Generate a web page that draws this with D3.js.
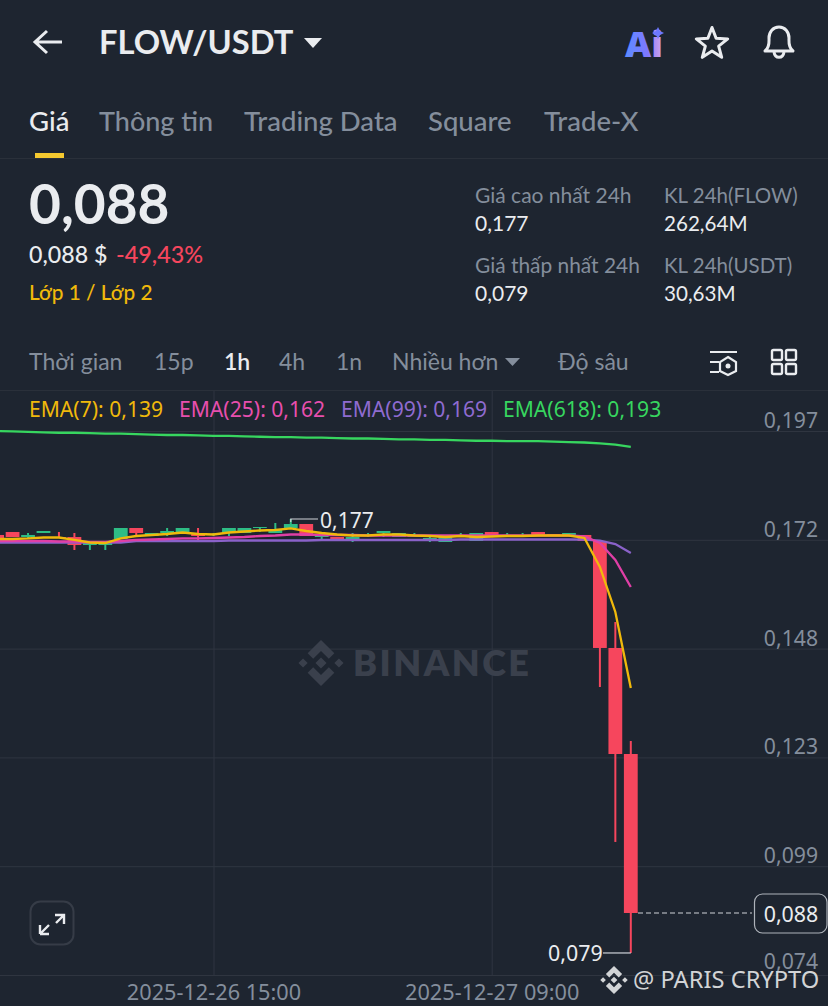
<!DOCTYPE html>
<html><head><meta charset="utf-8">
<script src="https://cdn.jsdelivr.net/npm/d3@7/dist/d3.min.js"></script>
<style>html,body{margin:0;padding:0;background:#1e2530;overflow:hidden}svg{display:block}</style>
</head><body><svg id="c" width="828" height="1006"></svg>
<script>
const lastCandle = "2025-12-27T18:00:00Z";
const opens = [.17349,.17416,.17303,.17394,.17303,.17303,.17122,.17122,.17258,.17507,.17326,.17394,.17394,.17394,.17349,.17394,.17394,.17507,.17394,.17507,.17597,.17303,.17303,.17236,.17326,.17394,.17303,.17303,.17258,.1719,.17326,.17213,.17416,.17326,.17326,.17416,.17371,.17349,.17349,.17213,.14794,.12397];
const highs = [.17349,.17416,.17394,.17439,.17416,.17394,.17168,.17168,.17507,.17507,.17394,.17507,.17507,.17507,.17394,.17507,.17507,.17529,.1762,.1771,.17597,.17326,.17303,.17394,.17394,.17439,.17394,.17394,.17326,.17303,.17394,.17394,.17416,.17394,.17394,.17416,.17371,.17394,.17349,.17236,.15382,.12691];
const lows = [.17281,.17303,.17281,.17394,.17281,.17009,.17009,.17009,.17258,.17326,.17326,.17326,.17394,.17213,.17326,.17326,.17394,.17416,.17394,.17507,.17326,.17236,.17236,.1719,.17303,.17303,.17303,.17303,.1719,.1719,.17326,.17213,.17326,.17326,.17326,.17326,.17326,.17349,.17213,.13912,.10408,.07898];
const closes = [.17281,.17303,.17349,.17439,.17281,.17122,.17168,.17168,.17507,.17394,.17394,.17439,.17507,.17326,.17371,.17507,.17507,.17529,.17484,.17597,.17326,.17326,.17236,.17303,.17349,.17439,.17394,.17326,.17281,.17303,.17349,.17394,.17326,.17349,.17349,.17326,.17326,.17394,.17213,.14794,.12397,.08802];
const ema7 = [.17258,.17258,.1727,.17292,.17292,.17236,.17179,.17168,.1727,.17326,.17349,.17371,.17405,.17371,.1736,.17405,.17428,.1745,.17462,.17496,.17439,.17394,.1736,.17337,.17337,.1736,.1736,.17337,.17326,.17303,.17326,.17303,.17315,.17326,.17326,.17337,.17337,.17337,.17281,.16625,.15608,.1389];
const ema25 = [.17213,.17213,.17213,.17213,.17202,.17202,.1719,.1719,.17213,.17236,.17247,.17258,.1727,.1727,.17281,.17292,.17303,.17326,.17337,.1736,.1736,.17349,.17349,.17349,.17337,.17337,.17337,.17337,.17337,.17337,.17337,.17337,.17337,.17337,.17337,.17337,.17337,.17337,.17315,.17168,.16783,.16173];
const ema99 = [.17179,.17179,.17179,.17179,.17179,.17179,.17179,.17179,.17179,.17213,.17213,.17213,.17213,.17213,.17213,.17224,.17224,.17224,.17224,.17224,.17224,.17236,.17236,.17236,.17236,.17236,.17236,.17236,.17236,.17236,.17247,.17247,.17247,.17247,.17247,.17247,.17247,.17247,.17242,.1722,.17145,.16942];
const ema618 = [.1970,.1969,.1968,.1967,.1966,.1966,.1965,.1964,.1964,.1963,.1962,.1961,.1961,.1960,.1959,.1959,.1958,.1957,.1956,.1956,.1955,.1955,.1954,.1953,.1953,.1952,.1951,.1951,.1950,.1950,.1949,.1948,.1948,.1947,.1947,.1947,.1946,.1945,.1944,.1942,.1939,.1934];
const priceTicks = [.197,.1724,.1478,.1232,.0986,.074];
const priceTickLabels = ["0,197","0,172","0,148","0,123","0,099","0,074"];
const timeTicks = ["2025-12-26T15:00:00Z","2025-12-27T09:00:00Z"];
const emaNames = ["EMA(7): 0,139","EMA(25): 0,162","EMA(99): 0,169","EMA(618): 0,193"];
const tabs = ["Giá","Thông tin","Trading Data","Square","Trade-X"];
const intervals = ["Thời gian","15p","1h","4h","1n","Nhiều hơn","Độ sâu"];

const BG="#1e2530", RED="#f6465d", GREEN="#2ebd85", GRID="#2f3540", GREY="#848e9c", WHITE="#eaecef", YEL="#f0b90b";
const UI="Lato, 'Noto Sans', sans-serif", CH="'Noto Sans', sans-serif";
const svg=d3.select("#c");
svg.append("rect").attr("width",828).attr("height",1006).attr("fill",BG);
const T=(g,s,x,y,size,fill,font,weight,anchor)=>g.append("text").text(s).attr("x",x).attr("y",y)
  .attr("font-size",size).attr("fill",fill).attr("font-family",font||UI).attr("font-weight",weight||400).attr("text-anchor",anchor||"start");

/* header */
const h=svg.append("g");
h.append("path").attr("d","M62 42H35M47 31L35 42L47 53").attr("fill","none").attr("stroke",WHITE).attr("stroke-width",3);
T(h,"FLOW/USDT",99,54,32.7,WHITE,UI,700);
h.append("path").attr("d","M304 38H322L313 48Z").attr("fill",WHITE);
const aig=svg.append("defs").append("linearGradient").attr("id","aig").attr("x1",0).attr("x2",1);
aig.append("stop").attr("offset",0).attr("stop-color","#5b8cff");
aig.append("stop").attr("offset",.6).attr("stop-color","#7f77ff");
aig.append("stop").attr("offset",1).attr("stop-color","#d7a6e8");
T(h,"Ai",625,57,36,"url(#aig)","'Noto Sans',sans-serif",900);
h.append("path").attr("d","M658 27L660 31L664 33L660 35L658 39L656 35L652 33L656 31Z").attr("fill","#6d78ff");
h.append("path").attr("d",d3.range(10).map(i=>{const r=i%2?7:16.5,a=-Math.PI/2+i*Math.PI/5;return (i?"L":"M")+(712+r*Math.cos(a))+" "+(44+r*Math.sin(a));}).join("")+"Z")
  .attr("fill","none").attr("stroke",WHITE).attr("stroke-width",3).attr("stroke-linejoin","round");
h.append("path").attr("d","M765 51C770 47 769 42 769 38C769 32 773 27 779 27C785 27 789 32 789 38C789 42 788 47 793 51Z")
  .attr("fill","none").attr("stroke",WHITE).attr("stroke-width",3).attr("stroke-linejoin","round");
h.append("path").attr("d","M774 52C775 59 783 59 784 52").attr("fill","none").attr("stroke",WHITE).attr("stroke-width",3);

/* tabs */
const tabX=[29,99,244,428,544];
tabs.forEach((s,i)=>T(h,s,tabX[i],131,i==1?27:27.5,i?GREY:WHITE,UI,500));
h.append("rect").attr("x",35).attr("y",153).attr("width",29).attr("height",5).attr("fill","#f5c92f");
h.append("rect").attr("x",0).attr("y",158).attr("width",828).attr("height",1).attr("fill","#2a303a");

/* price summary */
T(h,"0,088",29,224,55,WHITE,UI,700);
T(h,"0,088 $",29,263,23.2,WHITE,UI,500);
T(h,"-49,43%",116,263,23.4,RED,UI,500);
T(h,"Lớp 1 / Lớp 2",29,300,20.8,YEL,UI,500);
T(h,"Giá cao nhất 24h",475,203,21,GREY); T(h,"0,177",475,231,21,WHITE);
T(h,"Giá thấp nhất 24h",475,273,20.9,GREY); T(h,"0,079",475,301,21,WHITE);
T(h,"KL 24h(FLOW)",664,203,20.5,GREY); T(h,"262,64M",664,231,20.6,WHITE);
T(h,"KL 24h(USDT)",664,273,20.5,GREY); T(h,"30,63M",664,301,20.6,WHITE);

/* interval bar */
const intX=[29,154,224,279,336,392,558];
intervals.forEach((s,i)=>T(h,s,intX[i],370,23,i==2?WHITE:GREY,UI,i==2?600:400));
h.append("path").attr("d","M505 358H520L512.5 366Z").attr("fill",GREY);
h.append("path").attr("d","M710 352H737M710 362H719M710 372H719M728 357L736 362V371L728 375L720 371V362Z").attr("fill","none").attr("stroke",WHITE).attr("stroke-width",2.2);
h.append("circle").attr("cx",728).attr("cy",366).attr("r",2.5).attr("fill",WHITE);
[[772,350],[786,350],[772,364],[786,364]].forEach(p=>h.append("rect").attr("x",p[0]).attr("y",p[1]).attr("width",10).attr("height",10).attr("rx",1.5).attr("fill","none").attr("stroke",WHITE).attr("stroke-width",2.4));
h.append("rect").attr("x",0).attr("y",390).attr("width",828).attr("height",1).attr("fill","#2a303a");

/* scales */
const t15=new Date(timeTicks[0]), t09=new Date(timeTicks[1]);
const x=d3.scaleUtc().domain([t15,t09]).range([213.5,491.7]);
const y=d3.scaleLinear().domain([.197,.074]).range([431,975]);
const times=opens.map((_,i)=>d3.utcHour.offset(new Date(lastCandle),i-opens.length+1));
const rows=times.map((t,i)=>({t,o:opens[i],h:highs[i],l:lows[i],c:closes[i]}));

/* grid and axes */
const yAxis=svg.append("g").attr("transform","translate(828,0)")
  .call(d3.axisRight(y).tickValues(priceTicks).tickSize(-828).tickFormat((d,i)=>priceTickLabels[i]));
yAxis.select(".domain").remove();
yAxis.selectAll("line").attr("stroke",GRID);
yAxis.selectAll("text").attr("x",-10).attr("dy",(d,i)=>i==5?"-6.5":"-3.5").attr("text-anchor","end")
  .attr("font-size",21.2).attr("font-family",CH).attr("fill",GREY);
const xAxis=svg.append("g").attr("transform","translate(0,975)")
  .call(d3.axisBottom(x).tickValues(timeTicks.map(d=>new Date(d))).tickSize(-584).tickFormat(d3.utcFormat("%Y-%m-%d %H:%M")));
xAxis.select(".domain").remove();
xAxis.selectAll("line").attr("stroke",GRID);
xAxis.selectAll("text").attr("y",10).attr("dy","15").attr("font-size",21.7).attr("font-family",CH).attr("fill",GREY);

/* BINANCE watermark */
const logo=(g,cx,cy,s,fill)=>{
  const d=(px,py,r)=>`M${cx+px*s} ${cy+py*s-r*s}L${cx+px*s+r*s} ${cy+py*s}L${cx+px*s} ${cy+py*s+r*s}L${cx+px*s-r*s} ${cy+py*s}Z`;
  g.append("path").attr("fill",fill).attr("d",d(0,0,.24)+d(-.78,0,.2)+d(.78,0,.2)+
   `M${cx} ${cy-s}L${cx+.58*s} ${cy-.42*s}L${cx+.34*s} ${cy-.18*s}L${cx} ${cy-.52*s}L${cx-.34*s} ${cy-.18*s}L${cx-.58*s} ${cy-.42*s}Z`+
   `M${cx} ${cy+s}L${cx+.58*s} ${cy+.42*s}L${cx+.34*s} ${cy+.18*s}L${cx} ${cy+.52*s}L${cx-.34*s} ${cy+.18*s}L${cx-.58*s} ${cy+.42*s}Z`);
};
logo(svg,321,663,23,"#3a404c");
T(svg,"BINANCE",353,676,36,"#3a404c",UI,800).attr("textLength",176);

/* candles */
const plot=svg.append("g");
const col=d=>d.c>=d.o?GREEN:RED;
plot.selectAll("line.w").data(rows).join("line").attr("class","w")
  .attr("x1",d=>x(d.t)).attr("x2",d=>x(d.t)).attr("y1",d=>y(d.h)).attr("y2",d=>y(d.l))
  .attr("stroke",col).attr("stroke-width",2);
plot.selectAll("rect.b").data(rows).join("rect").attr("class","b")
  .attr("x",d=>x(d.t)-6.9).attr("width",13.8)
  .attr("y",d=>y(Math.max(d.o,d.c))).attr("height",d=>Math.max(1,Math.abs(y(d.o)-y(d.c))))
  .attr("fill",col);

/* EMA lines */
const emaLine=v=>d3.line().x((d,i)=>x(times[i])).y(d=>y(d))(v);
[[ema618,"#37d65f"],[ema99,"#8a62c9"],[ema25,"#e03fa6"],[ema7,"#f0b90b"]].forEach(([v,c])=>
  plot.append("path").attr("d",emaLine(v)).attr("fill","none").attr("stroke",c).attr("stroke-width",2.3));

/* EMA legend */
const legX=[29,179,341,503], legC=[YEL,"#e84fae","#8f6bd0","#37d65f"];
emaNames.forEach((s,i)=>T(svg,s,legX[i],417,21.1,legC[i],CH));

/* high / low / last labels */
const hiI=highs.indexOf(d3.max(highs)), loI=lows.indexOf(d3.min(lows)), lastI=closes.length-1;
const fmt=v=>v.toFixed(3).replace(".",",");
svg.append("path").attr("d",`M${x(times[hiI])} ${y(highs[hiI])+3}V${y(highs[hiI])}H318`).attr("fill","none").attr("stroke","#cfd3d8").attr("stroke-width",1.2);
T(svg,fmt(highs[hiI]),320,528,21,WHITE,CH);
svg.append("line").attr("x1",603).attr("x2",x(times[loI])).attr("y1",y(lows[loI])).attr("y2",y(lows[loI])).attr("stroke","#cfd3d8").attr("stroke-width",1.2);
T(svg,fmt(lows[loI]),548,961,21.4,WHITE,CH);
svg.append("line").attr("x1",638).attr("x2",752).attr("y1",y(closes[lastI])).attr("y2",y(closes[lastI])).attr("stroke","#cfd3d8").attr("stroke-width",1.2).attr("stroke-dasharray","5 3");
svg.append("rect").attr("x",754.5).attr("y",894).attr("width",72.5).attr("height",39).attr("rx",8).attr("fill",BG).attr("stroke","#aeb3ba").attr("stroke-width",1.2);
T(svg,fmt(closes[lastI]),791,922,21.4,WHITE,CH,400,"middle");

/* expand button */
svg.append("rect").attr("x",30.5).attr("y",901.5).attr("width",43).attr("height",43).attr("rx",10).attr("fill","none").attr("stroke","#363c47").attr("stroke-width",2);
svg.append("path").attr("d","M55 915L64 915L64 924M64 915L56 923M40 934L40 925M40 934L49 934M40 934L49 925").attr("fill","none").attr("stroke",WHITE).attr("stroke-width",2.4);

/* overlay credit */
logo(svg,614,980,14,"#d2d4d6");
T(svg,"@ PARIS CRYPTO",633,988,23.7,"#d2d4d6",CH);
</script></body></html>
